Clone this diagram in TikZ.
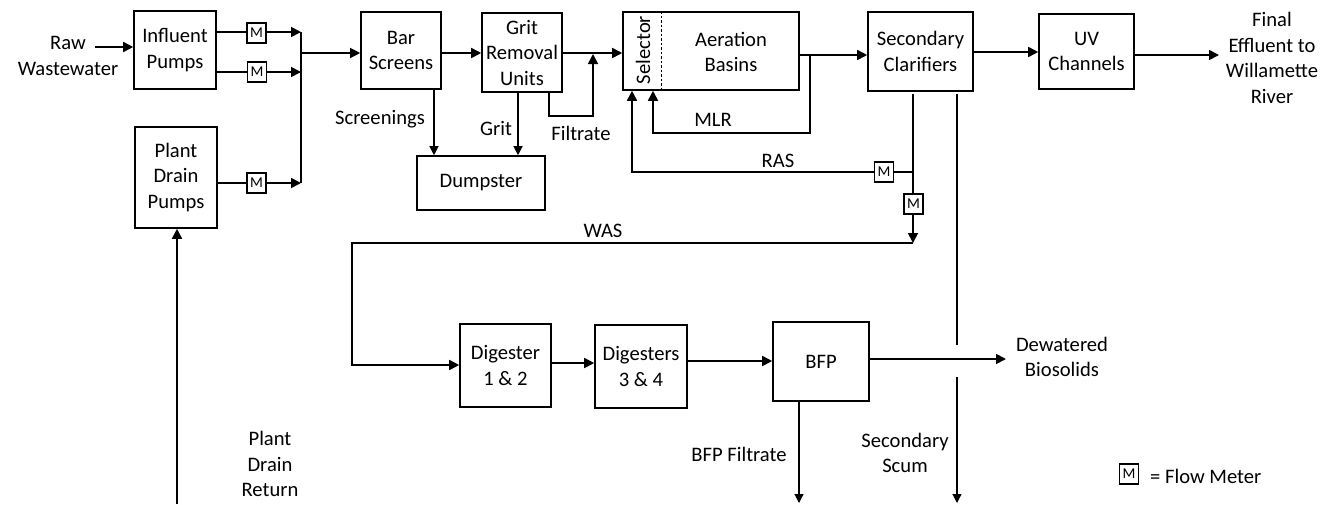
\documentclass[tikz,border=0pt]{standalone}
\usepackage{fontspec}
\setmainfont{Carlito}
\usetikzlibrary{arrows.meta}
\begin{document}
\begin{tikzpicture}[x=1pt,y=-1pt,
  txt/.style={font=\fontsize{20.6}{25.5}\selectfont, align=center, inner sep=0pt},
  box/.style args={#1x#2}{draw, line width=1.6pt, minimum width=#1pt, minimum height=#2pt, inner sep=0pt, txt},
  meter/.style={draw, fill=white, line width=1.3pt, minimum width=19pt, minimum height=20pt, inner sep=0pt, font=\fontsize{15}{16}\selectfont},
  ln/.style={line width=1.7pt},
  thin/.style={line width=1.2pt},
  arr/.style={-{Triangle[length=10pt,width=10pt]}},
  arrs/.style={-{Triangle[length=9pt,width=9pt]}}
]
\useasboundingbox (0,0) rectangle (1333,504);
% boxes
\node[box=82x78] (inf) at (175,50) {Influent\\Pumps};
\node[box=82x101] (pdp) at (176,177.5) {Plant\\Drain\\Pumps};
\node[box=80x77] (bar) at (401,50.5) {Bar\\Screens};
\node[box=80x79] (grit) at (522,52.5) {Grit\\Removal\\Units};
\node[box=128x54] (dump) at (481,183) {Dumpster};
\node[box=176x78] (aer) at (711,51) {};
\node[txt] (aertxt) at (731,52) {Aeration\\Basins};
\node[txt, rotate=90] (sel) at (643,50) {Selector};
\node[box=105x79] (sec) at (920.5,51.5) {Secondary\\Clarifiers};
\node[box=95x75] (uv) at (1086.5,51.5) {UV\\Channels};
\node[box=91x83] (d12) at (505.5,365.5) {Digester\\1 \& 2};
\node[box=92x83] (d34) at (641,366.5) {Digesters\\3 \& 4};
\node[box=96x79] (bfp) at (821,361.5) {BFP};
\draw[dashed, line width=0.6pt, dash pattern=on 2.5pt off 2pt] (aer.north -| 661,0) -- (aer.south -| 661,0);

% labels
\node[txt] (raw) at (68,56) {Raw\\Wastewater};
\node[txt] (fin) at (1272,58) {Final\\Effluent to\\Willamette\\River};
\node[txt] (scr) at (380,119) {Screenings};
\node[txt] (gritl) at (496,128) {Grit};
\node[txt] (filt) at (581,133) {Filtrate};
\node[txt] (mlr) at (713,120) {MLR};
\node[txt] (ras) at (778,161) {RAS};
\node[txt] (was) at (603,231) {WAS};
\node[txt] (pdr) at (270,464) {Plant\\Drain\\Return};
\node[txt] (bfpf) at (739,454) {BFP Filtrate};
\node[txt] (scum) at (905,453) {Secondary\\Scum};
\node[txt] (dew) at (1062,357) {Dewatered\\Biosolids};
\node[meter] (leg) at (1129,474) {M};
\node[txt, anchor=west] (legt) at (1150,476) {= Flow Meter};

% coordinates
\coordinate (rawout) at (95,47);
\coordinate (b1) at (301,32);
\coordinate (b2) at (301,72);
\coordinate (b3) at (301,183);
\coordinate (bb) at (301,53);
\coordinate (pdrb) at (177,504);
\coordinate (f1) at (549,116);
\coordinate (f2) at (593,116);
\coordinate (f3) at (593,54);
\coordinate (mlr1) at (810,55);
\coordinate (mlr2) at (810,133);
\coordinate (mlr3) at (653,133);
\coordinate (rast) at (913,94);
\coordinate (ras1) at (913,172);
\coordinate (ras2) at (632,172);
\coordinate (was1) at (913,243);
\coordinate (was2) at (352,243);
\coordinate (was3) at (352,365);
\coordinate (sc1) at (957,94);
\coordinate (sc2) at (957,345);
\coordinate (sc3) at (957,377);
\coordinate (sc4) at (957,503);
\coordinate (bf1) at (799,503);
\coordinate (dewin) at (1006,359);
\coordinate (finin) at (1219,55);

% influent side
\draw[ln,arr] (rawout) -- (rawout -| inf.west);
\draw[ln,arr] (inf.east |- b1) -- (b1);
\draw[ln,arr] (inf.east |- b2) -- (b2);
\draw[ln,arr] (pdp.east |- b3) -- (b3);
\draw[ln] (b1) -- (b3);
\node[meter] (m1) at (256.5,33) {M};
\node[meter] (m2) at (257,72) {M};
\node[meter] (m3) at (256.5,183) {M};
\draw[ln,arr] (pdrb) -- (pdrb |- pdp.south);
\draw[thin,arr] (bb) -- (bb -| bar.west);

% headworks
\draw[ln,arr] (bar.east |- bb) -- (bb -| grit.west);
\draw[ln,arr] (grit.east |- bb) -- (bb -| aer.west);
\draw[ln,arr] (grit.south -| f1) -- (f1) -- (f2) -- (f3);
\draw[thin,arrs] (bar.south -| 434,0) -- (dump.north -| 434,0);
\draw[thin,arrs] (grit.south -| 518,0) -- (dump.north -| 518,0);

% secondary
\draw[ln,arr] (aer.east |- mlr1) -- (mlr1 -| sec.west);
\draw[ln,arr] (mlr1) -- (mlr2) -- (mlr3) -- (mlr3 |- aer.south);
\draw[ln,arr] (rast) -- (ras1) -- (ras2) -- (ras2 |- aer.south);
\node[meter] (m4) at (884,172) {M};
\draw[ln,arr] (ras1) -- (was1);
\node[meter] (m5) at (913.5,204) {M};
\draw[ln,arr] (was1) -- (was2) -- (was3) -- (was3 -| d12.west);
\draw[ln,arr] (sec.east |- 0,52) -- (uv.west |- 0,52);
\draw[ln,arr] (uv.east |- finin) -- (finin);
\draw[thin] (sc1) -- (sc2);
\draw[thin,arrs] (sc3) -- (sc4);

% solids
\draw[ln,arr] (d12.east |- 0,363) -- (d34.west |- 0,363);
\draw[ln,arr] (d34.east |- 0,361) -- (bfp.west |- 0,361);
\draw[ln,arr] (bfp.east |- dewin) -- (dewin);
\draw[thin,arrs] (bfp.south -| bf1) -- (bf1);
\end{tikzpicture}
\end{document}
